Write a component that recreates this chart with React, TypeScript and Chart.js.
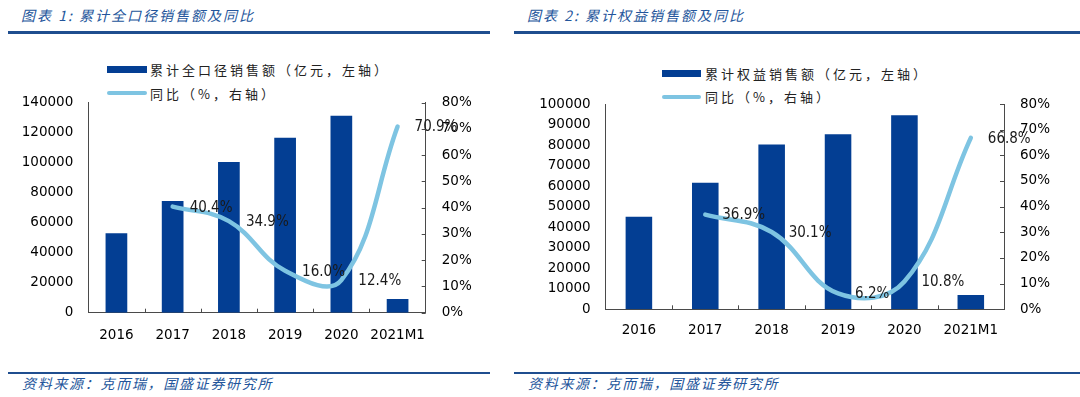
import React, { useEffect, useRef } from "react";
import { Chart, registerables } from "chart.js";

Chart.register(...registerables);

// ---------- data ----------
const categories = ["2016", "2017", "2018", "2019", "2020", "2021M1"];

const totalSales = [53000, 74500, 100500, 116700, 131300, 9200];
const totalYoY: (number | null)[] = [null, 40.4, 34.9, 16.0, 12.4, 70.9];

const equitySales = [45100, 61700, 80300, 85300, 94500, 7000];
const equityYoY: (number | null)[] = [null, 36.9, 30.1, 6.2, 10.8, 66.8];

const totalAxis = [0, 140000, 20000]; // min, max, step
const equityAxis = [0, 100000, 10000];
const pctAxis = [0, 80, 10];

const titles = ["图表 1:  累计全口径销售额及同比", "图表 2:  累计权益销售额及同比"];
const barLegends = ["累计全口径销售额（亿元，左轴）", "累计权益销售额（亿元，左轴）"];
const lineLegend = "同比（%，右轴）";
const sourceText = "资料来源：克而瑞，国盛证券研究所";

// ---------- styles ----------
const BAR = "#033e93";
const LINE = "#7ec4e2";
const AXIS = "#4a4a4a";
const BLUE = "#23559b";
const tickFont = { family: "'DejaVu Sans', Verdana, sans-serif", size: 13.5, lineHeight: 1.2 };
const labelFont = "15px 'DejaVu Sans Condensed', 'DejaVu Sans', sans-serif";

type Cfg = {
  bars: number[];
  yoy: (number | null)[];
  axis: number[];
  yWidth: number;
  y1Width: number;
  padRight: number;
  padTop: number;
  padBottom: number;
  xPad: number;
  barPct: number;
};

const innerTicks = {
  id: "innerTicks",
  afterDraw(chart: any) {
    const { ctx, chartArea } = chart;
    const n = categories.length;
    const w = (chartArea.right - chartArea.left) / n;
    ctx.save();
    ctx.strokeStyle = AXIS;
    ctx.lineWidth = 1;
    ctx.beginPath();
    for (let i = 1; i < n; i++) {
      const x = Math.round(chartArea.left + i * w) + 0.5;
      ctx.moveTo(x, chartArea.bottom);
      ctx.lineTo(x, chartArea.bottom - 4);
    }
    const y1 = chart.scales.y1;
    for (const t of y1.ticks) {
      const y = Math.round(y1.getPixelForValue(t.value)) + 0.5;
      ctx.moveTo(chartArea.right - 4, y);
      ctx.lineTo(chartArea.right, y);
    }
    ctx.stroke();
    ctx.restore();
  },
};

const dataLabels = {
  id: "dataLabels",
  afterDatasetsDraw(chart: any) {
    const { ctx } = chart;
    const meta = chart.getDatasetMeta(0);
    const vals = chart.data.datasets[0].data as (number | null)[];
    ctx.save();
    ctx.font = labelFont;
    ctx.fillStyle = "#1a1a1a";
    ctx.textAlign = "left";
    ctx.textBaseline = "middle";
    meta.data.forEach((p: any, i: number) => {
      const v = vals[i];
      if (v === null || v === undefined) return;
      ctx.fillText(v.toFixed(1) + "%", p.x + 17, p.y + 1);
    });
    ctx.restore();
  },
};

function ChartCanvas({ cfg, left }: { cfg: Cfg; left: number }) {
  const ref = useRef<HTMLCanvasElement>(null);
  useEffect(() => {
    const chart = new Chart(ref.current as HTMLCanvasElement, {
      type: "bar",
      data: {
        labels: categories,
        datasets: [
          {
            type: "line",
            label: "同比",
            data: cfg.yoy,
            yAxisID: "y1",
            borderColor: LINE,
            backgroundColor: LINE,
            borderWidth: 4.5,
            pointRadius: 0,
            tension: 0.4,
            borderCapStyle: "round",
            fill: false,
            order: 0,
          } as any,
          {
            type: "bar",
            label: "销售额",
            data: cfg.bars,
            yAxisID: "y",
            backgroundColor: BAR,
            barPercentage: cfg.barPct,
            categoryPercentage: 1,
            order: 1,
          } as any,
        ],
      },
      options: {
        responsive: false,
        animation: false,
        events: [],
        layout: { padding: { left: 0, right: cfg.padRight, top: cfg.padTop, bottom: cfg.padBottom } },
        plugins: { legend: { display: false }, tooltip: { enabled: false }, title: { display: false } },
        scales: {
          x: {
            grid: { display: false, drawTicks: false },
            border: { display: true, color: AXIS, width: 1 },
            ticks: { padding: cfg.xPad, color: "#000", font: tickFont, autoSkip: false, maxRotation: 0, minRotation: 0 },
            afterFit: (s: any) => {
              s.height = 30;
            },
          },
          y: {
            position: "left",
            min: cfg.axis[0],
            max: cfg.axis[1],
            grid: { display: false, drawTicks: false },
            border: { display: true, color: AXIS, width: 1 },
            ticks: { stepSize: cfg.axis[2], padding: 15, color: "#000", font: tickFont, callback: (v: any) => String(v) },
            afterFit: (s: any) => {
              s.width = cfg.yWidth;
            },
          },
          y1: {
            position: "right",
            min: pctAxis[0],
            max: pctAxis[1],
            grid: { display: false, drawTicks: false },
            border: { display: true, color: AXIS, width: 1 },
            ticks: { stepSize: pctAxis[2], padding: 16, color: "#000", font: tickFont, callback: (v: any) => v + "%" },
            afterFit: (s: any) => {
              s.width = cfg.y1Width;
            },
          },
        },
      } as any,
      plugins: [innerTicks, dataLabels],
    });
    return () => chart.destroy();
  }, []);
  return (
    <canvas
      ref={ref}
      width={540}
      height={397}
      style={{ position: "absolute", left, top: 0, width: 540, height: 397 }}
    />
  );
}

const cjk = "'Noto Sans CJK SC', 'Noto Sans', sans-serif";

function Text({ x, y, size, children, style }: any) {
  return (
    <div
      style={{
        position: "absolute",
        left: x,
        top: y - size / 2,
        fontSize: size,
        lineHeight: size + "px",
        whiteSpace: "nowrap",
        fontFamily: cjk,
        ...style,
      }}
    >
      {children}
    </div>
  );
}

function Rule({ x1, x2, y, h }: any) {
  return <div style={{ position: "absolute", left: x1, top: y, width: x2 - x1, height: h, background: "#1f4e8f" }} />;
}

function Panel({ i, x0 }: { i: number; x0: number }) {
  return (
    <>
      <Text x={x0 + 13} y={15} size={14} style={{ color: BLUE, fontStyle: "italic", letterSpacing: "2px" }}>
        {titles[i]}
      </Text>
      <Rule x1={x0} x2={x0 + (i === 0 ? 482 : 566)} y={31} h={3} />
      <Rule x1={x0} x2={x0 + (i === 0 ? 482 : 566)} y={372} h={2} />
      <Text x={x0 + 14} y={383} size={14} style={{ color: BLUE, fontStyle: "italic", letterSpacing: "1.7px" }}>
        {sourceText}
      </Text>
    </>
  );
}

export default function App() {
  const leftCfg: Cfg = {
    bars: totalSales,
    yoy: totalYoY,
    axis: totalAxis,
    yWidth: 88.3,
    y1Width: 60,
    padRight: 54.3,
    padTop: 102.7,
    padBottom: 54.3,
    xPad: 14.9,
    barPct: 0.386,
  };
  const rightCfg: Cfg = {
    bars: equitySales,
    yoy: equityYoY,
    axis: equityAxis,
    yWidth: 65.7,
    y1Width: 60,
    padRight: 16,
    padTop: 104,
    padBottom: 57.7,
    xPad: 12.6,
    barPct: 0.4,
  };
  const legends = [
    { sx: 107, bx2: 147, by: 69, ly: 93.3, tx: 150 },
    { sx: 662, bx2: 701, by: 73, ly: 96.7, tx: 705 },
  ];
  return (
    <div style={{ position: "absolute", left: 0, top: 0, width: 1080, height: 397, background: "#fff", overflow: "hidden" }}>
      <Panel i={0} x0={8} />
      <Panel i={1} x0={514} />
      {legends.map((l, i) => (
        <React.Fragment key={i}>
          <div style={{ position: "absolute", left: l.sx, top: l.by - 3.5, width: l.bx2 - l.sx, height: 7, background: BAR }} />
          <div
            style={{
              position: "absolute",
              left: l.sx,
              top: l.ly - 2,
              width: l.bx2 - l.sx,
              height: 4,
              borderRadius: 2,
              background: LINE,
            }}
          />
          <Text x={l.tx} y={l.by} size={13} style={{ color: "#222", letterSpacing: "3px" }}>
            {barLegends[i]}
          </Text>
          <Text x={l.tx} y={l.ly} size={13} style={{ color: "#222", letterSpacing: "3px" }}>
            {lineLegend}
          </Text>
        </React.Fragment>
      ))}
      <ChartCanvas cfg={leftCfg} left={0} />
      <ChartCanvas cfg={rightCfg} left={540} />
    </div>
  );
}
